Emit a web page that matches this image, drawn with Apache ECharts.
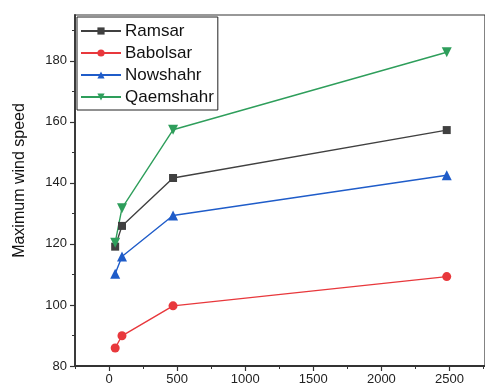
<!DOCTYPE html>
<html>
<head>
<meta charset="utf-8">
<script src="https://cdn.jsdelivr.net/npm/echarts@6/dist/echarts.min.js"></script>
<style>
html,body{margin:0;padding:0;background:#fff;}
#chart{width:485px;height:388px;}
</style>
</head>
<body>
<div id="chart"></div>
<script>
var chart=echarts.init(document.getElementById("chart"));

// data
var seriesNames=['Ramsar','Babolsar','Nowshahr','Qaemshahr'];
var xs=[45,95,470,2480];
var ramsar=[119.1,125.9,141.6,157.3];
var babolsar=[85.9,89.9,99.7,109.3];
var nowshahr=[110.2,115.9,129.3,142.5];
var qaemshahr=[120.4,131.7,157.4,182.8];
var xTicks=[0,500,1000,1500,2000,2500];
var xMinor=[-250,250,750,1250,1750,2250,2750];
var yTicks=[80,100,120,140,160,180];
var yMinor=[90,110,130,150,170,190];

var colors=['#404040','#e8383c','#1f5cc9','#2e9e5b'];
var symbols=['rect','circle','triangle','path://M0,0 L10,0 L5,9 Z'];
var sizes=[8,9,10,10];
var allData=[ramsar,babolsar,nowshahr,qaemshahr];

function pairs(arr){
	var out=[];
	for(var i=0;i<xs.length;i++){out.push([xs[i],arr[i]]);}
	return out;
}

var series=[];
for(var i=0;i<seriesNames.length;i++){
	series.push({
		name:seriesNames[i],
		type:'line',
		data:pairs(allData[i]),
		symbol:symbols[i],
		symbolSize:sizes[i],
		showSymbol:true,
		lineStyle:{color:colors[i],width:1.4},
		itemStyle:{color:colors[i]},
		animation:false
	});
}

var option={
	textStyle:{fontFamily:'Liberation Sans, Arial, sans-serif'},
	grid:{left:75,top:15,width:415,height:351,show:true,borderColor:'#333',borderWidth:1.2,backgroundColor:'transparent'},
	legend:{
		data:seriesNames,
		left:77,top:17,orient:'vertical',
		padding:[5,4,4,3],itemGap:4,itemWidth:40,itemHeight:9,
		borderColor:'#222',borderWidth:1,backgroundColor:'#fff',
		textStyle:{fontSize:17,color:'#111',lineHeight:18,padding:[0,0,0,-1]}
	},
	xAxis:[{
		type:'value',min:-250,max:2761,
		splitLine:{show:false},
		axisLine:{onZero:false,lineStyle:{color:'#333',width:1.8}},
		axisTick:{customValues:xTicks,length:5,lineStyle:{color:'#333',width:1.2}},
		axisLabel:{customValues:xTicks,fontSize:13,color:'#222',margin:7,formatter:function(v){return String(v);}}
	},{
		type:'value',min:-250,max:2761,position:'bottom',
		splitLine:{show:false},axisLine:{show:false,onZero:false},
		axisTick:{customValues:xMinor,length:3,lineStyle:{color:'#333',width:1}},
		axisLabel:{show:false}
	}],
	yAxis:[{
		type:'value',min:80,max:195,
		name:'Maximum wind speed',nameLocation:'middle',nameGap:47,
		nameTextStyle:{fontSize:16,color:'#111',padding:[0,0,0,20]},
		splitLine:{show:false},
		axisLine:{show:true,onZero:false,lineStyle:{color:'#333',width:1.8}},
		axisTick:{show:true,customValues:yTicks,length:5,lineStyle:{color:'#333',width:1.2}},
		axisLabel:{customValues:yTicks,fontSize:13,color:'#222',margin:8}
	},{
		type:'value',min:80,max:195,position:'left',
		splitLine:{show:false},axisLine:{show:false,onZero:false},
		axisTick:{show:true,customValues:yMinor,length:3,lineStyle:{color:'#333',width:1}},
		axisLabel:{show:false}
	}],
	series:series
};
chart.setOption(option);
</script>
</body>
</html>
